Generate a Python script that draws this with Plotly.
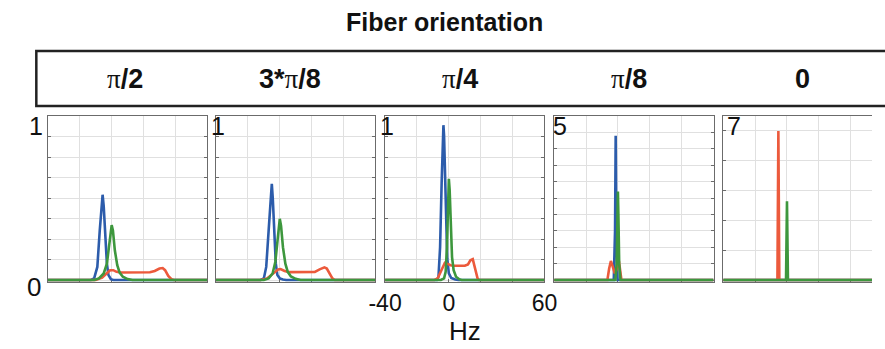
import plotly.graph_objects as go

W, H = 885, 349

# ---------------- data ----------------
panel_titles = ["π/2", "3*π/8", "π/4", "π/8", "0"]
panel_max_labels = ["1", "1", "1", "5", "7"]
y_max = [1.0, 1.0, 1.0, 5.0, 5.5]
y_dtick = [0.125, 0.125, 0.125, 0.5, 1.0]
x_tick_vals = [-40, -20, 0, 20, 40, 60]
x_tick_text = ["-40", "", "0", "", "", "60"]

# panel 1 (pi/2)
p1_blue_x = [-40, -13, -11, -9, -7.5, -6.2, -5.7, -5, -4, -3, -2, -0.5, 1, 60]
p1_blue_y = [0, 0, 0.01, 0.08, 0.3, 0.5, 0.52, 0.45, 0.25, 0.1, 0.03, 0.005, 0, 0]
p1_red_x = [-40, -10, -6, -3, -1, 1, 3, 6, 20, 24, 27, 30, 32, 33.5, 35.5, 37.5, 39, 60]
p1_red_y = [0, 0, 0.015, 0.045, 0.06, 0.06, 0.05, 0.046, 0.046, 0.047, 0.055, 0.07, 0.073, 0.06, 0.025, 0.005, 0, 0]
p1_green_x = [-40, -11, -8, -5, -3, -1.5, -0.5, 0, 0.8, 2, 3.5, 5, 7, 10, 13, 60]
p1_green_y = [0, 0, 0.01, 0.04, 0.1, 0.22, 0.32, 0.335, 0.3, 0.18, 0.09, 0.045, 0.02, 0.006, 0, 0]

# panel 2 (3*pi/8)
p2_blue_x = [-40, -12, -10, -8.5, -7, -5.6, -5, -4.4, -3.5, -2.5, -1.5, 0, 2, 4, 60]
p2_blue_y = [0, 0, 0.01, 0.08, 0.3, 0.55, 0.587, 0.5, 0.28, 0.1, 0.03, 0.01, 0.003, 0, 0]
p2_red_x = [-40, -12, -8, -4, -1, 0.5, 3, 6, 19, 22, 25, 28, 29.5, 31, 33, 34.5, 60]
p2_red_y = [0, 0, 0.01, 0.04, 0.065, 0.067, 0.055, 0.048, 0.046, 0.05, 0.065, 0.077, 0.07, 0.04, 0.01, 0, 0]
p2_green_x = [-40, -10, -7, -4.5, -2.8, -1.4, -0.5, 0, 0.8, 2, 3.5, 5, 7, 10, 13, 60]
p2_green_y = [0, 0, 0.01, 0.04, 0.11, 0.25, 0.36, 0.373, 0.33, 0.2, 0.1, 0.05, 0.022, 0.007, 0, 0]

# panel 3 (pi/4)
p3_blue_x = [-40, -7.5, -6.5, -5.5, -4.5, -3.8, -3.4, -3, -2.5, -1.8, -1, 0, 1.5, 4, 6, 60]
p3_blue_y = [0, 0, 0.02, 0.2, 0.6, 0.9, 0.944, 0.88, 0.65, 0.35, 0.13, 0.04, 0.012, 0.003, 0, 0]
p3_red_x = [-40, -9, -7, -5.5, -4, -2.5, -1, 1, 3, 10, 12, 13.5, 15, 16, 17, 18, 19, 60]
p3_red_y = [0, 0, 0.01, 0.04, 0.08, 0.105, 0.1, 0.09, 0.087, 0.087, 0.095, 0.12, 0.127, 0.09, 0.04, 0.01, 0, 0]
p3_green_x = [-40, -5, -3, -2, -1.2, -0.5, 0, 0.5, 1.2, 2, 3, 4.5, 6.5, 8, 60]
p3_green_y = [0, 0, 0.01, 0.05, 0.2, 0.5, 0.617, 0.55, 0.3, 0.14, 0.06, 0.02, 0.005, 0, 0]

# panel 4 (pi/8)
p4_blue_x = [-40, -2.6, -1.8, -1.4, -1.0, -0.2, 60]
p4_blue_y = [0, 0, 1.5, 4.4, 1.5, 0, 0]
p4_red_x = [-40, -6.6, -5.5, -4.4, -3.2, -2.0, -1.0, 0.6, 1.4, 2.2, 60]
p4_red_y = [0, 0, 0.35, 0.58, 0.4, 0.2, 0.3, 0.58, 0.3, 0, 0]
p4_green_x = [-40, -1.6, -0.8, -0.3, 0, 0.3, 0.8, 1.6, 60]
p4_green_y = [0, 0, 0.5, 2.0, 2.7, 2.0, 0.5, 0, 0]

# panel 5 (0)
p5_blue_x = [-40, 60]
p5_blue_y = [0, 0]
p5_red_x = [-40, -6.0, -5.4, -4.8, 60]
p5_red_y = [0, 0, 5.0, 0, 0]
p5_green_x = [-40, -0.6, 0, 0.6, 60]
p5_green_y = [0, 0, 2.64, 0, 0]

panels = [
    (p1_blue_x, p1_blue_y, p1_red_x, p1_red_y, p1_green_x, p1_green_y),
    (p2_blue_x, p2_blue_y, p2_red_x, p2_red_y, p2_green_x, p2_green_y),
    (p3_blue_x, p3_blue_y, p3_red_x, p3_red_y, p3_green_x, p3_green_y),
    (p4_blue_x, p4_blue_y, p4_red_x, p4_red_y, p4_green_x, p4_green_y),
    (p5_blue_x, p5_blue_y, p5_red_x, p5_red_y, p5_green_x, p5_green_y),
]

# ---------------- style ----------------
BLUE = "#2c5cab"
RED = "#ec5a3c"
GREEN = "#3d973d"
FRAME = "#6b6b6b"
GRID = "#e0e0e0"
SANS = "Liberation Sans, Arial, sans-serif"
BOLD = "Liberation Sans, Arial, sans-serif"

panel_left_px = [32, 206, 381, 556, 731]
panel_w_px = 165
top_px, bot_px = 116, 281


def px_x(v):
    return v / W


def px_y(v):
    return 1 - v / H


fig = go.Figure()
layout = dict(
    width=W, height=H,
    margin=dict(l=0, r=0, t=0, b=0),
    paper_bgcolor="white", plot_bgcolor="white",
    showlegend=False,
)

for i, (bx, by, rx, ry, gx, gy) in enumerate(panels):
    n = "" if i == 0 else str(i + 1)
    xa, ya = "x" + n, "y" + n
    for xs, ys, col in ((bx, by, BLUE), (rx, ry, RED), (gx, gy, GREEN)):
        fig.add_trace(go.Scatter(x=xs, y=ys, mode="lines",
                                 line=dict(color=col, width=2.6),
                                 xaxis=xa, yaxis=ya, hoverinfo="skip"))
    left = panel_left_px[i]
    right = left + panel_w_px
    xr = [-40, 60]
    if right > W:
        xr = [-40, -40 + (W - left) / panel_w_px * 100]
        right = W
    is_last = i == len(panels) - 1
    layout["xaxis" + n] = dict(
        domain=[px_x(left), px_x(right)], range=xr, anchor=ya,
        tickvals=x_tick_vals,
        ticktext=x_tick_text if i == 2 else [""] * len(x_tick_vals),
        showticklabels=(i == 2),
        tickfont=dict(family=SANS, size=23, color="#111"),
        ticks="inside", ticklen=3, tickcolor=FRAME,
        showgrid=True, gridcolor=GRID, gridwidth=1,
        showline=True, linecolor=FRAME, linewidth=1, mirror=True,
        zeroline=False, layer="below traces", fixedrange=True,
    )
    if i == 2:
        layout["xaxis" + n]["title"] = dict(text="Hz", font=dict(family=SANS, size=26, color="#111"), standoff=2)
    ym = y_max[i]
    layout["yaxis" + n] = dict(
        domain=[px_y(bot_px + 1), px_y(top_px)], range=[-0.012 * ym, ym], anchor=xa,
        dtick=y_dtick[i], tick0=0, showticklabels=False,
        ticks="inside", ticklen=3, tickcolor=FRAME,
        showgrid=True, gridcolor=GRID, gridwidth=1,
        showline=True, linecolor=FRAME, linewidth=1,
        mirror=False if is_last else "allticks",
        zeroline=False, layer="below traces", fixedrange=True,
    )

annotations = []
# main title
annotations.append(dict(text="<b>Fiber orientation</b>", x=px_x(443), y=px_y(22),
                        xref="paper", yref="paper", xanchor="center", yanchor="middle",
                        showarrow=False, font=dict(family=BOLD, size=25, color="#111")))
# orientation labels inside the box
label_cx = [112, 283, 459, 633, 813]
for t, cx in zip(panel_titles, label_cx):
    txt = t.replace("π", "<span style='font-family:Liberation Serif, serif;font-weight:normal'>π</span>")
    annotations.append(dict(text="<b>" + txt + "</b>", x=px_x(cx), y=px_y(79),
                            xref="paper", yref="paper", xanchor="center", yanchor="middle",
                            showarrow=False, font=dict(family=BOLD, size=27, color="#111")))
# y max labels
max_label_x = [10, 199, 374, 553, 733]
for t, lx in zip(panel_max_labels, max_label_x):
    annotations.append(dict(text=t, x=px_x(lx), y=px_y(126), xref="paper", yref="paper",
                            xanchor="left", yanchor="middle", showarrow=False,
                            font=dict(family=SANS, size=25, color="#111")))
# zero label of first panel
annotations.append(dict(text="0", x=px_x(18), y=px_y(287), xref="paper", yref="paper",
                        xanchor="center", yanchor="middle", showarrow=False,
                        font=dict(family=SANS, size=26, color="#111")))
layout["annotations"] = annotations

layout["shapes"] = [dict(type="rect", xref="paper", yref="paper",
                         x0=px_x(20), x1=1.05, y0=px_y(106), y1=px_y(51),
                         line=dict(color="#222", width=2.5), fillcolor="rgba(0,0,0,0)")]

fig.update_layout(**layout)
fig.write_html("out.html")
